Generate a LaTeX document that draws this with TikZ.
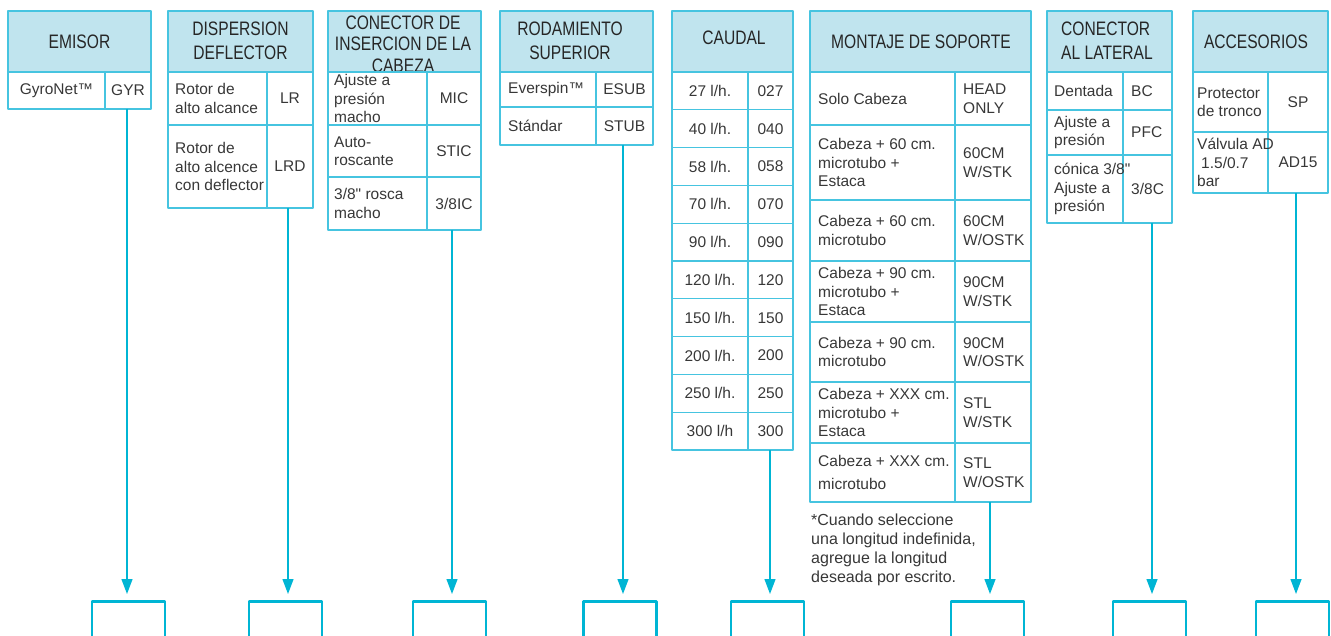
\documentclass[tikz,border=0pt]{standalone}
\usepackage{fontspec}
\setmainfont{Liberation Sans}
\newfontfamily\headfont[FakeStretch=0.8]{Liberation Sans}
\usetikzlibrary{arrows.meta}
\definecolor{lineblue}{RGB}{70,196,224}
\definecolor{tipblue}{RGB}{0,181,212}
\definecolor{headblue}{RGB}{192,228,238}
\definecolor{txtgray}{RGB}{55,55,55}
\tikzset{
	cell/.style={draw=lineblue, line width=1.3pt},
	headcell/.style={cell, fill=headblue},
	headtxt/.style={font=\headfont\fontsize{19.5}{24}\selectfont, text=black!85, align=center, inner sep=0pt},
	celltxt/.style={font=\fontsize{15.5}{18.5}\selectfont, text=txtgray, inner sep=0pt, align=left},
	feed/.style={draw=tipblue, line width=1.3pt, -{Triangle[length=15pt,width=11pt]}, shorten >=6pt},
	slot/.style={draw=tipblue, line width=2.6pt, minimum width=73pt, minimum height=60pt, anchor=north, inner sep=0pt}
}
\begin{document}
\begin{tikzpicture}[x=1pt, y=-1pt, line join=round]
	\useasboundingbox (0,0) rectangle (1331,636);
	\clip (0,0) rectangle (1331,636);
	
	\draw[headcell] (8,11) rectangle (151,72);
	\node[headtxt] (emisor) at (79.5,42) {EMISOR};
	\draw[cell] (8,72) rectangle (105,109) (105,72) rectangle (151,109);
	\node[celltxt] (emisor-d1) at (56.5,90.5) {GyroNet™};
	\node[celltxt] (emisor-c1) at (128,90.5) {GYR};
	\coordinate (emisor-out) at (127,109);
	
	\draw[headcell] (168,11) rectangle (313,72);
	\node[headtxt] (dispersion) at (240.5,41) {DISPERSION\\DEFLECTOR};
	\foreach \t/\b/\d/\c [count=\i] in {72/125/{Rotor de\\alto alcance}/LR, 125/208/{Rotor de\\alto alcence\\con deflector}/LRD}{
		\draw[cell] (168,\t) rectangle (267,\b) (267,\t) rectangle (313,\b);
		\node[celltxt, anchor=west] (dispersion-d\i) at (175,{(\t+\b)/2}) {\d};
		\node[celltxt] (dispersion-c\i) at (290,{(\t+\b)/2}) {\c};
	}
	\coordinate (dispersion-out) at (288,208);
	
	\draw[headcell] (328,11) rectangle (481,72);
	\node[headtxt, font=\headfont\fontsize{19.5}{21.5}\selectfont] (insercion) at (403,44) {CONECTOR DE\\INSERCION DE LA\\CABEZA};
	\foreach \t/\b/\d/\c [count=\i] in {72/125/{Ajuste a\\presión\\macho}/MIC, 125/177/{Auto-\\roscante}/STIC, 177/230/{3/8\textquotedbl{} rosca\\macho}/{3/8IC}}{
		\draw[cell] (328,\t) rectangle (427,\b) (427,\t) rectangle (481,\b);
		\node[celltxt, anchor=west] (insercion-d\i) at (334,{(\t+\b)/2}) {\d};
		\node[celltxt] (insercion-c\i) at (454,{(\t+\b)/2}) {\c};
	}
	\coordinate (insercion-out) at (452,230);
	
	\draw[headcell] (500,11) rectangle (653,72);
	\node[headtxt] (rodamiento) at (570,40.5) {RODAMIENTO\\SUPERIOR};
	\foreach \t/\b/\d/\c [count=\i] in {72/107/{Everspin™}/ESUB, 107/145/{Stándar}/STUB}{
		\draw[cell] (500,\t) rectangle (596,\b) (596,\t) rectangle (653,\b);
		\node[celltxt, anchor=west] (rodamiento-d\i) at (508,{(\t+\b)/2}) {\d};
		\node[celltxt] (rodamiento-c\i) at (624.5,{(\t+\b)/2}) {\c};
	}
	\coordinate (rodamiento-out) at (623,145);
	
	\draw[headcell] (672,11) rectangle (793,72);
	\node[headtxt] (caudal) at (734,38) {CAUDAL};
	\foreach \d/\c [count=\i from 0] in {{27 l/h.}/027, {40 l/h.}/040, {58 l/h.}/058, {70 l/h.}/070, {90 l/h.}/090, {120 l/h.}/120, {150 l/h.}/150, {200 l/h.}/200, {250 l/h.}/250, {300 l/h}/300}{
		\pgfmathsetmacro\t{72+37.8*\i}
		\pgfmathsetmacro\b{\t+37.8}
		\draw[cell] (672,\t) rectangle (748,\b) (748,\t) rectangle (793,\b);
		\node[celltxt] (caudal-d\i) at (710,{(\t+\b)/2}) {\d};
		\node[celltxt] (caudal-c\i) at (770.5,{(\t+\b)/2}) {\c};
	}
	\coordinate (caudal-out) at (770,450);
	
	\draw[headcell] (810,11) rectangle (1031,72);
	\node[headtxt] (montaje) at (921,42) {MONTAJE DE SOPORTE};
	\foreach \t/\b/\d/\c [count=\i] in {72/125/{Solo Cabeza}/{HEAD\\ONLY}, 125/200/{Cabeza + 60 cm.\\microtubo +\\Estaca}/{60CM\\W/STK}, 200/261/{Cabeza + 60 cm.\\microtubo}/{60CM\\W/OSTK}, 261/322/{Cabeza + 90 cm.\\microtubo +\\Estaca}/{90CM\\W/STK}, 322/382/{Cabeza + 90 cm.\\microtubo}/{90CM\\W/OSTK}, 382/443/{Cabeza + XXX cm.\\microtubo +\\Estaca}/{STL\\W/STK}, 443/502/{Cabeza + XXX cm.\\[5pt]microtubo}/{STL\\W/OSTK}}{
		\draw[cell] (810,\t) rectangle (955,\b) (955,\t) rectangle (1031,\b);
		\node[celltxt, anchor=west] (montaje-d\i) at (818,{(\t+\b)/2}) {\d};
		\node[celltxt, anchor=west] (montaje-c\i) at (963,{(\t+\b)/2}) {\c};
	}
	\coordinate (montaje-out) at (990,502);
	\node[celltxt, anchor=north west, font=\fontsize{16}{19}\selectfont] (nota) at (811,514) {*Cuando seleccione\\una longitud indefinida,\\agregue la longitud\\deseada por escrito.};
	
	\draw[headcell] (1047,11) rectangle (1172,72);
	\node[headtxt, align=left] (lateral) at (1107,41) {CONECTOR\\AL LATERAL};
	\foreach \t/\b/\d/\c [count=\i] in {72/110/{Dentada}/BC, 110/155/{Ajuste a\\presión}/PFC, 155/223/{cónica 3/8\textquotedbl\\Ajuste a\\presión}/{3/8C}}{
		\draw[cell] (1047,\t) rectangle (1123,\b) (1123,\t) rectangle (1172,\b);
		\node[celltxt, anchor=west] (lateral-d\i) at (1054,{(\t+\b)/2}) {\d};
		\node[celltxt, anchor=west] (lateral-c\i) at (1131,{(\t+\b)/2}) {\c};
	}
	\coordinate (lateral-out) at (1152,223);
	
	\draw[headcell] (1193,11) rectangle (1328,72);
	\node[headtxt] (accesorios) at (1256,42) {ACCESORIOS};
	\foreach \t/\b/\d/\c [count=\i] in {72/132/{Protector\\de tronco}/SP, 132/193/{Válvula AD\\\hspace*{4pt}1.5/0.7\\bar}/AD15}{
		\draw[cell] (1193,\t) rectangle (1268,\b) (1268,\t) rectangle (1328,\b);
		\node[celltxt, anchor=west] (accesorios-d\i) at (1197,{(\t+\b)/2}) {\d};
		\node[celltxt] (accesorios-c\i) at (1298,{(\t+\b)/2}) {\c};
	}
	\coordinate (accesorios-out) at (1296,193);
	
	\foreach \n/\x in {emisor/128.5, dispersion/285.5, insercion/449.5, rodamiento/620, caudal/767.5, montaje/987.5, lateral/1149.5, accesorios/1292.5}{
		\node[slot] (\n-box) at (\x,600) {};
		\draw[feed] (\n-out) -- (\n-out |- \n-box.north);
	}
\end{tikzpicture}
\end{document}
